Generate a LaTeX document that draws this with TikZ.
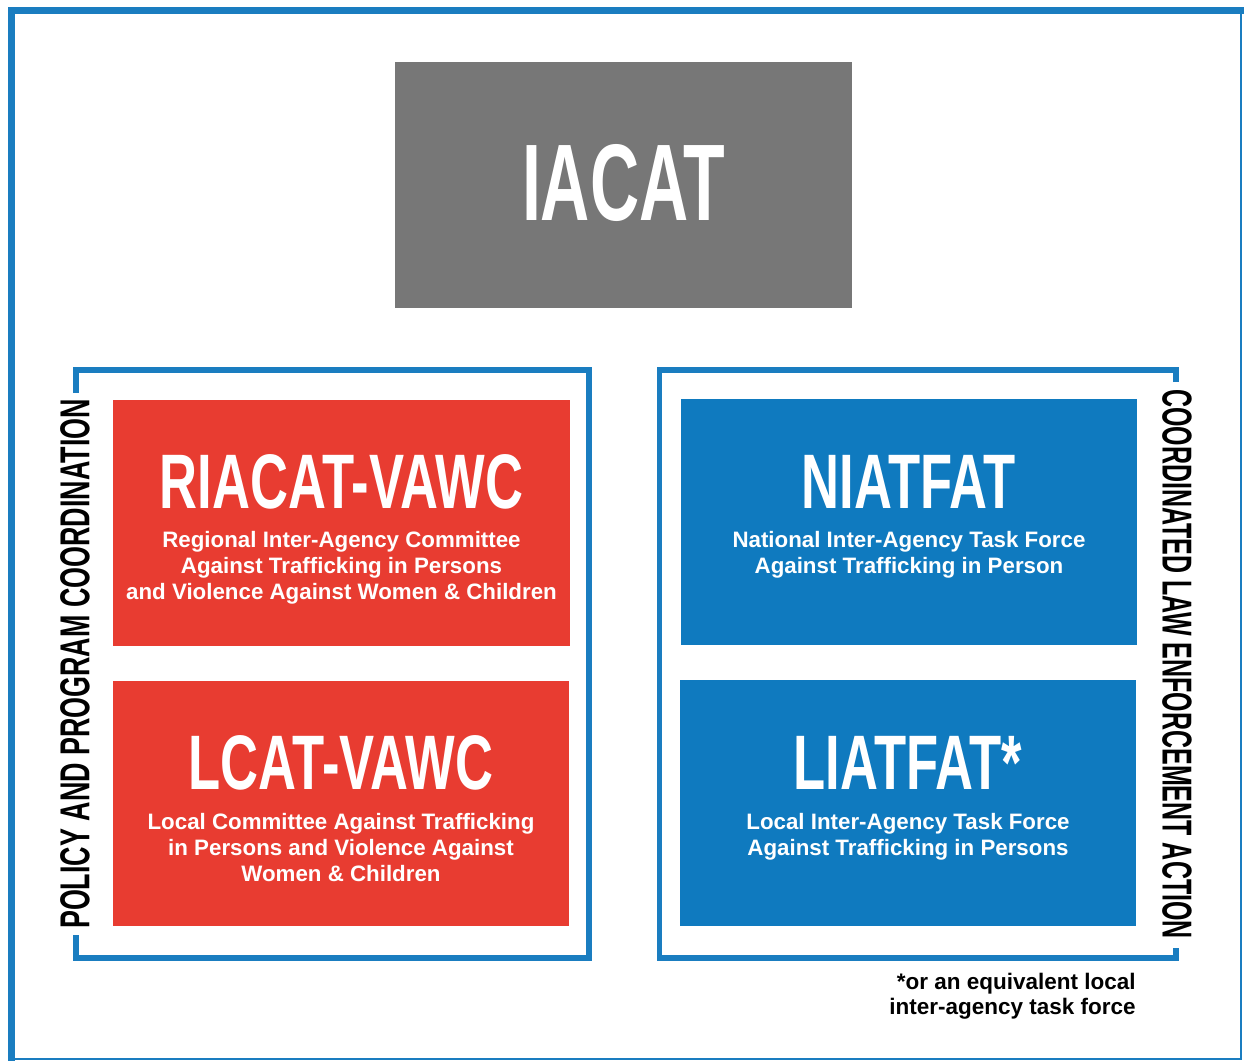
\documentclass[tikz,border=0pt]{standalone}
\usepackage{fontspec}
\setmainfont{Liberation Sans}
\usepackage{graphicx}

\definecolor{iacatgray}{HTML}{777777}
\definecolor{riacatred}{HTML}{E83C31}
\definecolor{niatblue}{HTML}{0F7ABF}
\definecolor{framecol}{HTML}{1A7DC0}

\newcommand{\narrow}[2][0.68]{\scalebox{#1}[1]{#2}}

\tikzset{
    agency/.style={rectangle, inner sep=0pt, minimum width=9.14cm, minimum height=4.92cm},
    bigname/.style={text=white, anchor=base, inner sep=0pt, font=\bfseries\fontsize{44}{44}\selectfont},
    fullname/.style={text=white, anchor=base, inner sep=0pt, align=center, font=\bfseries\fontsize{12.7}{14.7}\selectfont},
    bracket/.style={draw=framecol, line width=3.3pt},
    sidelabel/.style={inner sep=0pt, font=\bfseries\fontsize{23.8}{23.8}\selectfont},
}

\begin{document}
\begin{tikzpicture}[x=0.02cm, y=-0.02cm]
    \useasboundingbox (0, 0) rectangle (1244, 1061);

    % outer frame
    \draw[framecol, line width=1.1pt] (11.5, 10.5) rectangle (1241, 1059);
    \draw[framecol, line width=4pt] (11.5, 1061) -- (11.5, 10.5) -- (1244, 10.5);

    % top box
    \node[agency, fill=iacatgray] (iacat) at (623.5, 185) {};
    \node[bigname, font=\bfseries\fontsize{62}{62}\selectfont] (iacatname) at (623.5, 220) {\narrow[0.625]{IACAT}};

    % policy side
    \begin{scope}
        \draw[bracket] (76, 393) -- (76, 370) -- (589, 370) -- (589, 958) -- (76, 958) -- (76, 935);
        \node[sidelabel, rotate=90] (policy) at (75, 664) {\narrow[0.643]{POLICY AND PROGRAM COORDINATION}};

        \node[agency, fill=riacatred] (riacat) at (341.5, 523) {};
        \node[bigname] (riacatname) at (341.5, 508) {\narrow{RIACAT-VAWC}};
        % base anchor sits on the last line
        \node[fullname] (riacatfull) at (341.5, 599) {Regional Inter-Agency Committee\\Against Trafficking in Persons\\and Violence Against Women \& Children};

        \node[agency, fill=riacatred] (lcat) at (341, 803.5) {};
        \node[bigname] (lcatname) at (341, 789) {\narrow{LCAT-VAWC}};
        \node[fullname] (lcatfull) at (341, 881) {Local Committee Against Trafficking\\in Persons and Violence Against\\Women \& Children};
    \end{scope}

    % law enforcement side
    \begin{scope}
        \draw[bracket] (1176, 382) -- (1176, 370) -- (659.5, 370) -- (659.5, 958) -- (1176, 958) -- (1176, 948);
        \node[sidelabel, rotate=-90] (action) at (1177, 664) {\narrow[0.598]{COORDINATED LAW ENFORCEMENT ACTION}};

        \node[agency, fill=niatblue] (niatfat) at (909, 522) {};
        \node[bigname] (niatfatname) at (909, 508) {\narrow{NIATFAT}};
        \node[fullname] (niatfatfull) at (909, 573) {National Inter-Agency Task Force\\Against Trafficking in Person};

        \node[agency, fill=niatblue] (liatfat) at (908, 803) {};
        \node[bigname] (liatfatname) at (908, 789) {\narrow{LIATFAT*}};
        \node[fullname] (liatfatfull) at (908, 855) {Local Inter-Agency Task Force\\Against Trafficking in Persons};
    \end{scope}

    % footnote
    \node[anchor=base east, inner sep=0pt, align=right, font=\bfseries\fontsize{12.8}{14.2}\selectfont] (note) at (1136, 1014) {*or an equivalent local\\inter-agency task force};
\end{tikzpicture}
\end{document}
